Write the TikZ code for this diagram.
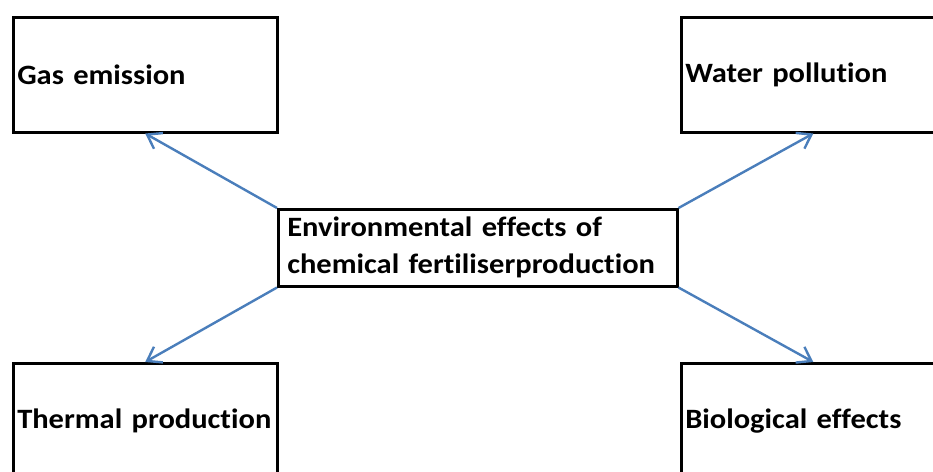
\documentclass[tikz,border=0pt]{standalone}
\usepackage{fontspec}
\setmainfont{Carlito}[FakeStretch=1.09, Ligatures=NoCommon]
\usetikzlibrary{arrows.meta}

\definecolor{arrowblue}{RGB}{74,126,187}

\begin{document}
\begin{tikzpicture}[
    x=1pt, y=-1pt,
    every node/.style={font=\fontsize{28}{37}\selectfont\bfseries},
    box/.style={draw, line width=2.5pt, anchor=north west, align=left, minimum width=264pt, minimum height=115pt, text width=256pt, inner xsep=4pt},
    hub/.style={draw, line width=2.5pt, anchor=north west, align=left, minimum width=399pt, minimum height=77pt, text width=381pt, inner xsep=9pt, inner ysep=0pt},
    flow/.style={-{Straight Barb[length=13pt, width=18pt]}, line width=2.4pt, arrowblue}
]
\useasboundingbox (0,0) rectangle (933,471);
\clip (0,0) rectangle (933,471);
\node[hub] (hub) at (277,208) {Environmental effects of\\chemical fertiliserproduction};
\node[box] (gas) at (12,16) {Gas emission};
\node[box] (water) at (680,16) {Water pollution};
\node[box] (thermal) at (12,362) {Thermal production};
\node[box] (bio) at (680,362) {Biological effects};
\draw[flow] (hub.north west) -- (gas.south);
\draw[flow] (hub.north east) -- (water.south);
\draw[flow] (hub.south west) -- (thermal.north);
\draw[flow] (hub.south east) -- (bio.north);
\end{tikzpicture}
\end{document}
